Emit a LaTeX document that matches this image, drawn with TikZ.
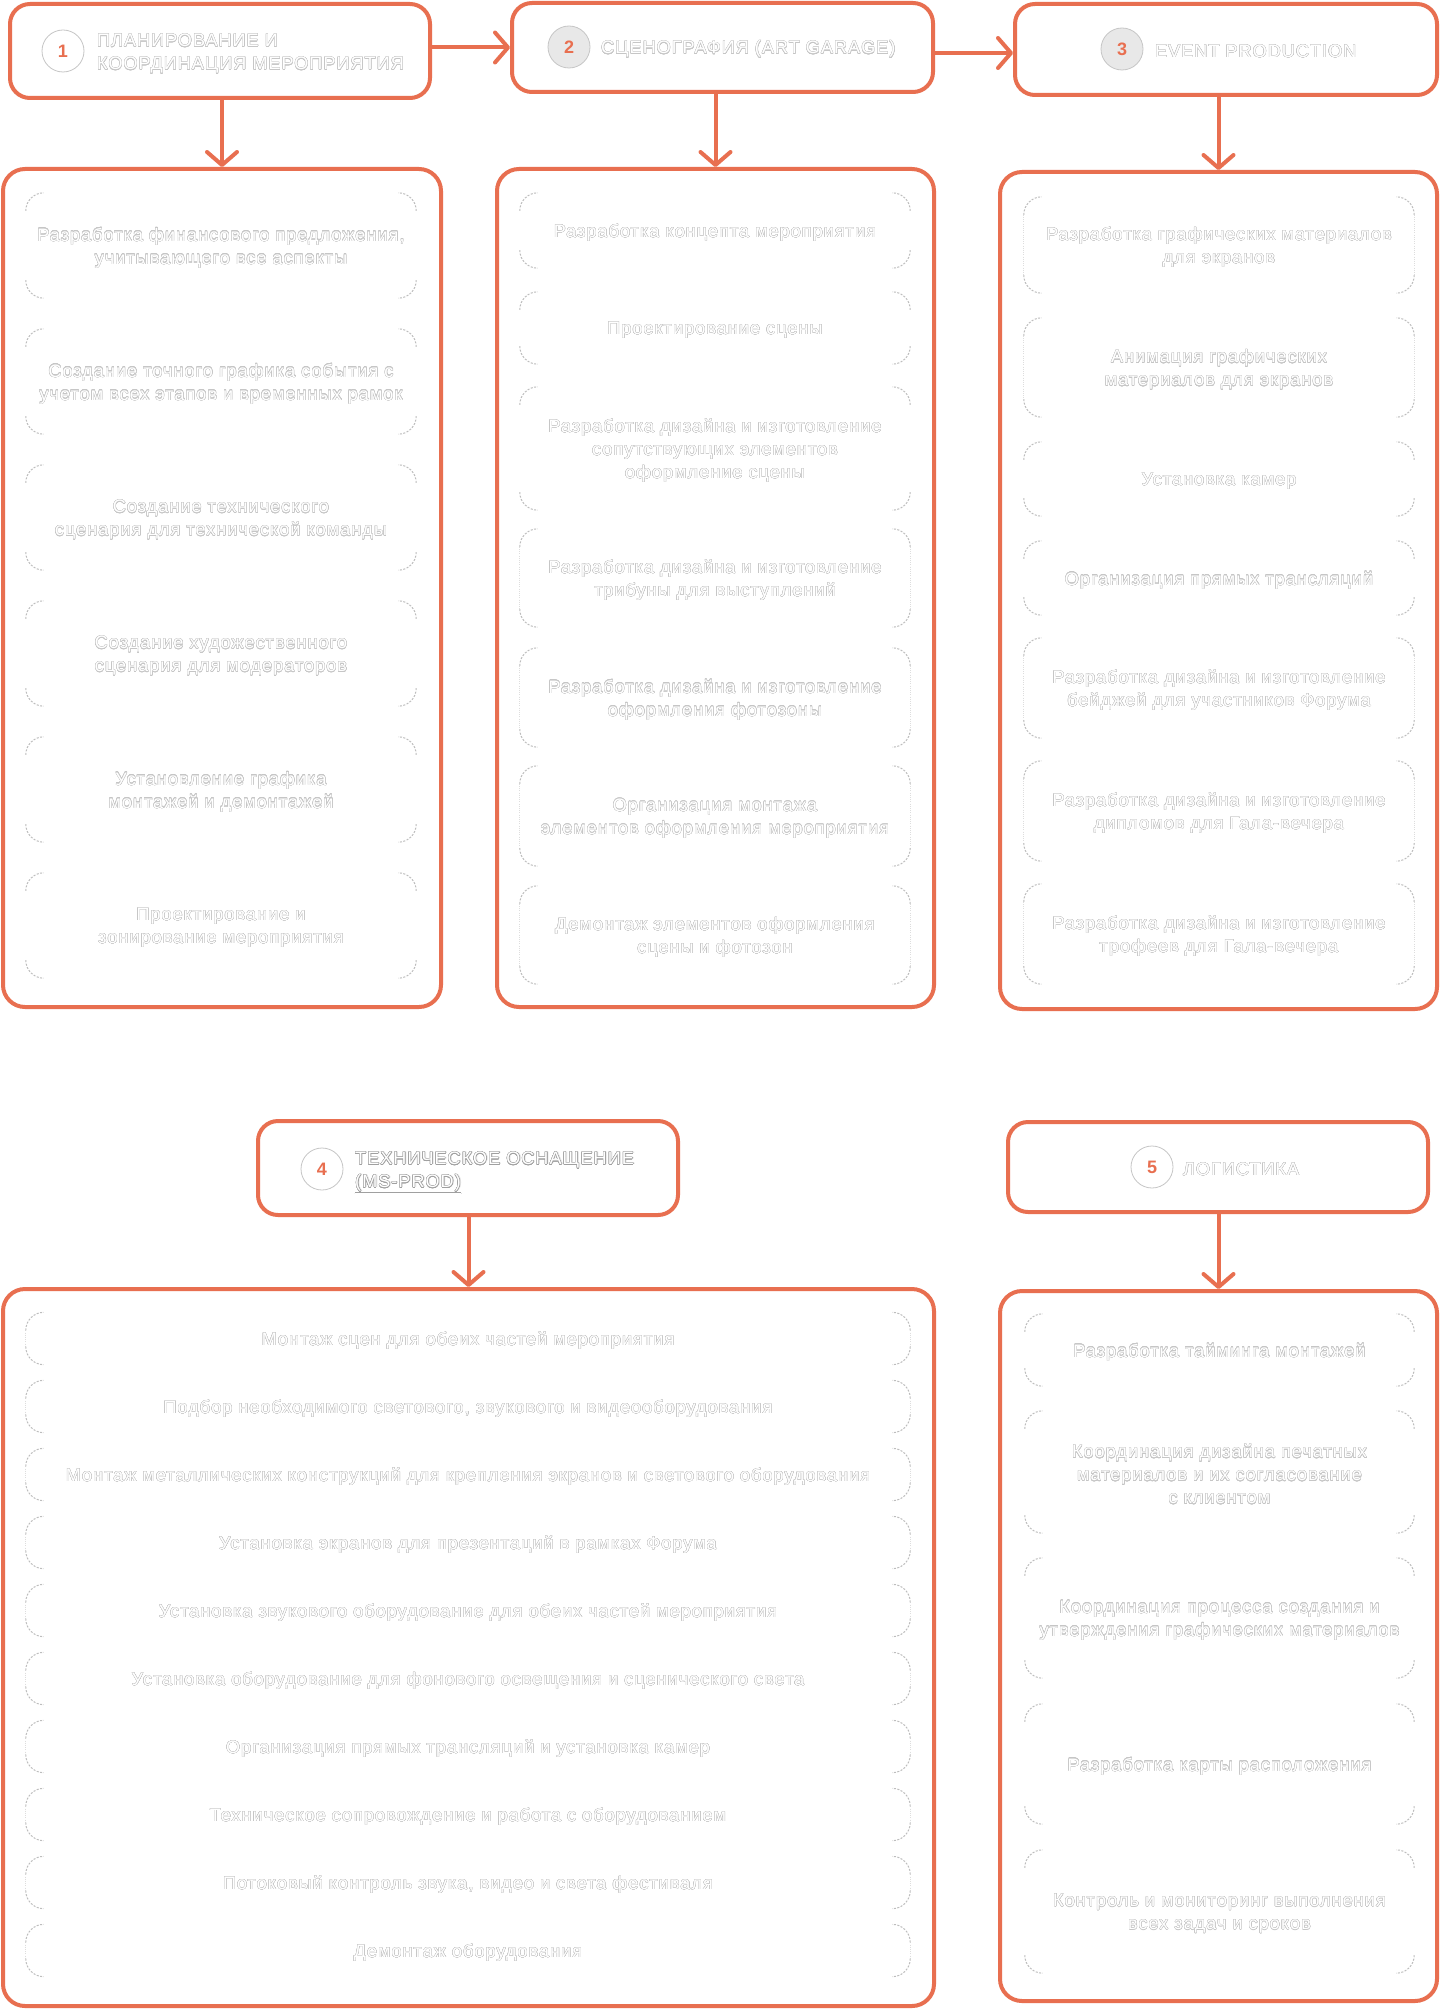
\documentclass[tikz,border=0pt]{standalone}
\usepackage{fontspec}
\setmainfont{Liberation Sans}[LetterSpace=6]
\usepackage{contour}
\contourlength{0.32pt}
\contournumber{20}
\usetikzlibrary{arrows.meta,calc}
\definecolor{org}{HTML}{E86F50}
\definecolor{tline}{HTML}{C6C6C6}
\definecolor{tdark}{HTML}{A0A0A0}
\definecolor{dline}{HTML}{BDBDBD}
\definecolor{sline}{HTML}{DDDDDD}
\definecolor{cfill}{HTML}{E8E8E8}
\newcommand\ol[1]{\raisebox{-2.5pt}[\height][\depth]{\contour{tline}{#1}}}
\newcommand\od[1]{\raisebox{-2pt}[\height][\depth]{\contour{tdark}{#1}}}
\newcommand\corners[1]{%
 \draw[cornerline] ([yshift=-18pt]#1.north west) |- ([xshift=18pt]#1.north west);
 \draw[cornerline] ([yshift=-18pt]#1.north east) |- ([xshift=-18pt]#1.north east);
 \draw[cornerline] ([yshift=18pt]#1.south west) |- ([xshift=18pt]#1.south west);
 \draw[cornerline] ([yshift=18pt]#1.south east) |- ([xshift=-18pt]#1.south east);}
\newcommand\sides[1]{%
 \draw[sideline] ([yshift=-18pt]#1.north west) -- ([yshift=18pt]#1.south west);
 \draw[sideline] ([yshift=-18pt]#1.north east) -- ([yshift=18pt]#1.south east);}
\tikzset{
 titlebox/.style={draw=org, line width=4pt, rounded corners=20pt, fill=white},
 outerbox/.style={draw=org, line width=4pt, rounded corners=22pt},
 item/.style={text=white, align=center, font=\fontsize{18}{23}\selectfont, inner sep=0pt},
 cornerline/.style={draw=dline, line width=1pt, dash pattern=on 2pt off 1.5pt, rounded corners=18pt},
 sideline/.style={draw=sline, line width=0.8pt, dash pattern=on 1pt off 1.2pt},
 flow/.style={draw=org, line width=4pt, -{Straight Barb[length=13pt,width=30pt,round]}},
 numc/.style={circle, minimum size=42pt, draw=tline, line width=0.8pt, fill=white, text=org, font=\fontsize{18}{18}\selectfont\bfseries, inner sep=0pt},
 ttl/.style={text=white, align=left, anchor=west, font=\fontsize{18}{23}\selectfont, inner sep=0pt},
}
\begin{document}
\begin{tikzpicture}[x=1pt,y=1pt]
\useasboundingbox (0,0) rectangle (1440,-2009);
\fill[white] (0,0) rectangle (1440,-2009);

% title boxes
\node[titlebox, minimum width=420pt, minimum height=94pt] (t1) at (220,-51) {};
\node[titlebox, minimum width=421pt, minimum height=89pt] (t2) at (722.5,-47.5) {};
\node[titlebox, minimum width=422pt, minimum height=91pt] (t3) at (1226,-49.5) {};
\node[titlebox, minimum width=420pt, minimum height=94pt] (t4) at (468,-1168) {};
\node[titlebox, minimum width=420pt, minimum height=90pt] (t5) at (1218,-1167) {};

\node[numc] (n1) at (63,-51) {1};
\node[numc, fill=cfill] (n2) at (569,-47) {2};
\node[numc, fill=cfill] (n3) at (1122,-49) {3};
\node[numc] (n4) at (322,-1169) {4};
\node[numc] (n5) at (1152,-1167) {5};

\node[ttl] (l1) at (97,-51.5) {\ol{ПЛАНИРОВАНИЕ И}\\\ol{КООРДИНАЦИЯ МЕРОПРИЯТИЯ}};
\node[ttl] (l2) at (601,-47) {\ol{СЦЕНОГРАФИЯ (ART GARAGE)}};
\node[ttl] (l3) at (1155,-49) {\ol{EVENT PRODUCTION}};
\node[ttl, text=black!13] (l4s) at (356.5,-1173) {ТЕХНИЧЕСКОЕ ОСНАЩЕНИЕ\\\underline{(MS-PROD)}};
\node[ttl] (l4) at (355,-1171) {\od{ТЕХНИЧЕСКОЕ ОСНАЩЕНИЕ}\\\od{\underline{(MS-PROD)}}};
\node[ttl] (l5) at (1183,-1167) {\ol{ЛОГИСТИКА}};

% outer boxes
\node[outerbox, minimum width=438pt, minimum height=838pt] (o1) at (222,-588) {};
\node[outerbox, minimum width=437pt, minimum height=838pt] (o2) at (715.5,-588) {};
\node[outerbox, minimum width=437pt, minimum height=837pt] (o3) at (1218.5,-590.5) {};
\node[outerbox, minimum width=931pt, minimum height=717pt] (o4) at (468.5,-1647.5) {};
\node[outerbox, minimum width=437pt, minimum height=710pt] (o5) at (1218.5,-1646) {};

% connectors
\draw[flow] (t1.east |- t2.west) -- (t2.west);
\coordinate (a23) at ([yshift=-5.5pt]t2.east);
\draw[flow] (a23) -- (a23 -| t3.west);
\draw[flow] (o1.north |- t1.south) -- (o1.north);
\draw[flow] (o2.north |- t2.south) -- (o2.north);
\draw[flow] (o3.north |- t3.south) -- (o3.north);
\draw[flow] (o4.north |- t4.south) -- (o4.north);
\draw[flow] (o5.north |- t5.south) -- (o5.north);

% column 1
\tikzset{c1/.style={item, minimum width=390pt, minimum height=105pt}}
\node[c1] (a1) at (221,-245.5) {\ol{Разработка финансового предложения,}\\\ol{учитывающего все аспекты}};
\node[c1] (a2) at (221,-381.5) {\ol{Создание точного графика события с}\\\ol{учетом всех этапов и временных рамок}};
\node[c1] (a3) at (221,-517.5) {\ol{Создание технического}\\\ol{сценария для технической команды}};
\node[c1] (a4) at (221,-653.5) {\ol{Создание художественного}\\\ol{сценария для модераторов}};
\node[c1] (a5) at (221,-789.5) {\ol{Установление графика}\\\ol{монтажей и демонтажей}};
\node[c1] (a6) at (221,-925.5) {\ol{Проектирование и}\\\ol{зонирование мероприятия}};
\foreach \n in {a1,a2,a3,a4,a5,a6}{\corners{\n}}

% column 2
\tikzset{c2/.style={item, minimum width=390pt}}
\node[c2, minimum height=75pt] (b1) at (715,-230.5) {\ol{Разработка концепта мероприятия}};
\node[c2, minimum height=72pt] (b2) at (715,-328) {\ol{Проектирование сцены}};
\node[c2, minimum height=123pt] (b3) at (715,-448.5) {\ol{Разработка дизайна и изготовление}\\\ol{сопутствующих элементов}\\\ol{оформление сцены}};
\node[c2, minimum height=98pt] (b4) at (715,-578) {\ol{Разработка дизайна и изготовление}\\\ol{трибуны для выступлений}};
\node[c2, minimum height=99pt] (b5) at (715,-697.5) {\ol{Разработка дизайна и изготовление}\\\ol{оформления фотозоны}};
\node[c2, minimum height=100pt] (b6) at (715,-816) {\ol{Организация монтажа}\\\ol{элементов оформления мероприятия}};
\node[c2, minimum height=98pt] (b7) at (715,-935) {\ol{Демонтаж элементов оформления}\\\ol{сцены и фотозон}};
\foreach \n in {b4,b5,b6,b7}{\sides{\n}}
\foreach \n in {b1,b2,b3,b4,b5,b6,b7}{\corners{\n}}

% column 3
\tikzset{c3/.style={item, minimum width=390pt}}
\node[c3, minimum height=96pt] (c1) at (1219,-245) {\ol{Разработка графических материалов}\\\ol{для экранов}};
\node[c3, minimum height=99pt] (c2) at (1219,-367.5) {\ol{Анимация графических}\\\ol{материалов для экранов}};
\node[c3, minimum height=74pt] (c3) at (1219,-479) {\ol{Установка камер}};
\node[c3, minimum height=74pt] (c4) at (1219,-578) {\ol{Организация прямых трансляций}};
\node[c3, minimum height=100pt] (c5) at (1219,-688) {\ol{Разработка дизайна и изготовление}\\\ol{бейджей для участников Форума}};
\node[c3, minimum height=100pt] (c6) at (1219,-811) {\ol{Разработка дизайна и изготовление}\\\ol{дипломов для Гала-вечера}};
\node[c3, minimum height=100pt] (c7) at (1219,-934) {\ol{Разработка дизайна и изготовление}\\\ol{трофеев для Гала-вечера}};
\foreach \n in {c1,c2,c5,c6,c7}{\sides{\n}}
\foreach \n in {c1,c2,c3,c4,c5,c6,c7}{\corners{\n}}

% column 4
\tikzset{c4/.style={item, minimum width=884pt, minimum height=52pt}}
\node[c4] (d1) at (468,-1338.5) {\ol{Монтаж сцен для обеих частей мероприятия}};
\node[c4] (d2) at (468,-1406.5) {\ol{Подбор необходимого светового, звукового и видеооборудования}};
\node[c4] (d3) at (468,-1474.5) {\ol{Монтаж металлических конструкций для крепления экранов и светового оборудования}};
\node[c4] (d4) at (468,-1542.5) {\ol{Установка экранов для презентаций в рамках Форума}};
\node[c4] (d5) at (468,-1610.5) {\ol{Установка звукового оборудование для обеих частей мероприятия}};
\node[c4] (d6) at (468,-1678.5) {\ol{Установка оборудование для фонового освещения и сценического света}};
\node[c4] (d7) at (468,-1746.5) {\ol{Организация прямых трансляций и установка камер}};
\node[c4] (d8) at (468,-1814.5) {\ol{Техническое сопровождение и работа с оборудованием}};
\node[c4] (d9) at (468,-1882.5) {\ol{Потоковый контроль звука, видео и света фестиваля}};
\node[c4] (d10) at (468,-1950.5) {\ol{Демонтаж оборудования}};
\foreach \n in {d1,d2,d3,d4,d5,d6,d7,d8,d9,d10}{\sides{\n}\corners{\n}}

% column 5
\tikzset{c5/.style={item, minimum width=389pt}}
\node[c5, minimum height=72pt] (e1) at (1219.5,-1350) {\ol{Разработка тайминга монтажей}};
\node[c5, minimum height=122pt] (e2) at (1219.5,-1472) {\ol{Координация дизайна печатных}\\\ol{материалов и их согласование}\\\ol{с клиентом}};
\node[c5, minimum height=120pt] (e3) at (1219.5,-1618) {\ol{Координация процесса создания и}\\\ol{утверждения графических материалов}};
\node[c5, minimum height=120pt] (e4) at (1219.5,-1764) {\ol{Разработка карты расположения}};
\node[c5, minimum height=123pt] (e5) at (1219.5,-1911.5) {\ol{Контроль и мониторинг выполнения}\\\ol{всех задач и сроков}};
\foreach \n in {e1,e2,e3,e4,e5}{\corners{\n}}
\end{tikzpicture}
\end{document}
